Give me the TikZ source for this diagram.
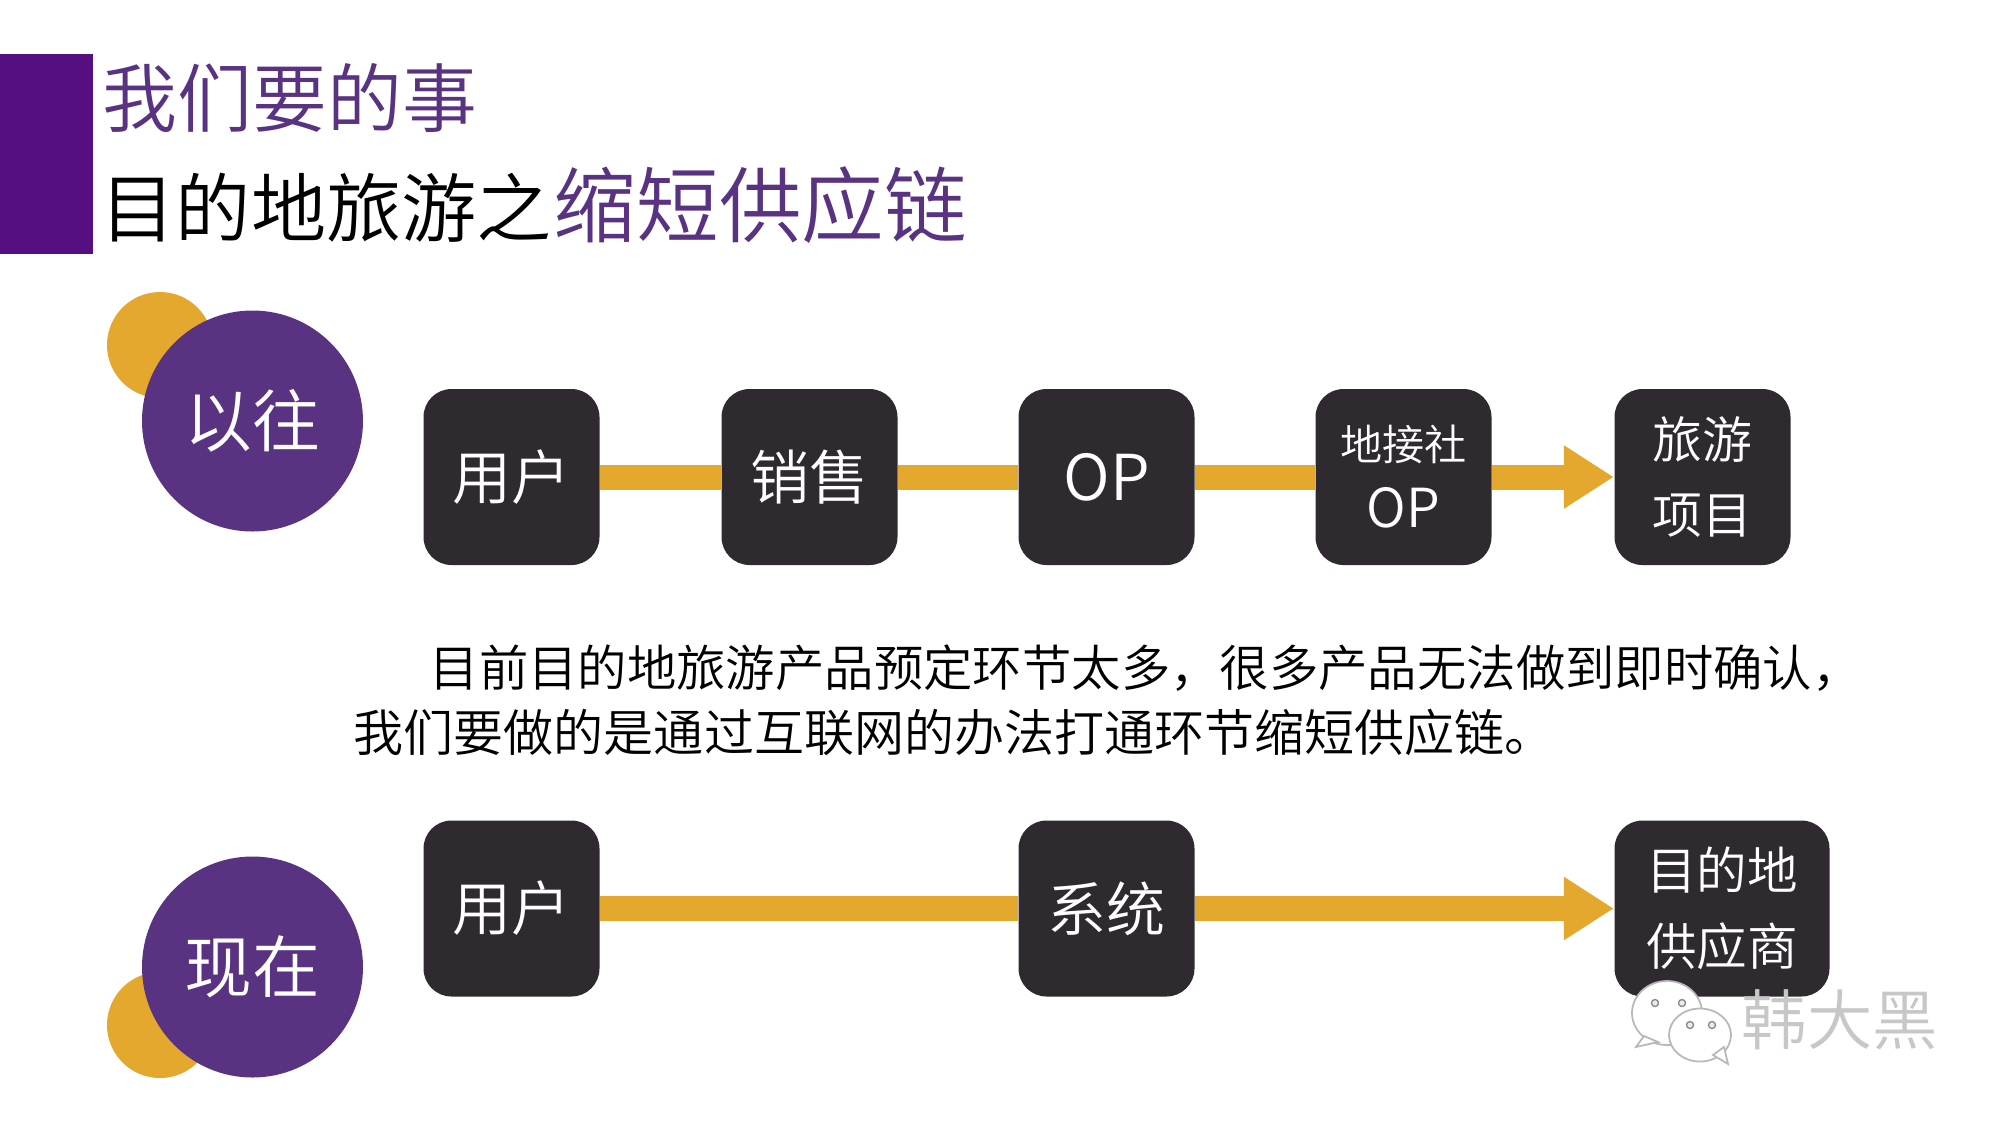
\documentclass[tikz,border=0pt]{standalone}
\usepackage{fontspec}
\setmainfont{Noto Sans CJK SC DemiLight}
\usetikzlibrary{arrows.meta}
\definecolor{barpurple}{HTML}{550F80}
\definecolor{titlepurple}{HTML}{5A3282}
\definecolor{linkorange}{HTML}{E5A82E}
\definecolor{boxdark}{HTML}{2E2A30}
\newcommand{\fs}[1]{\fontsize{#1}{#1}\selectfont}
\tikzset{
  stepbox/.style={fill=boxdark,text=white,rounded corners=0.28cm,inner sep=0pt,minimum width=1.76cm,minimum height=1.76cm,align=center,font=\fs{16.8}},
  spot/.style={circle,fill=linkorange,inner sep=0pt,minimum size=1.06cm},
  era/.style={circle,fill=titlepurple,text=white,inner sep=0pt,minimum size=2.21cm,font=\fs{19.3}},
  link/.style={linkorange,line width=0.25cm},
  linkhead/.style={link,-{Triangle[length=0.5cm,width=0.6cm]}},
  bubble/.style={fill=white,draw=black!28,line width=0.5pt},
  eye/.style={fill=black!8,draw=black!45,line width=0.4pt}
}
\begin{document}
\begin{tikzpicture}[x=1cm,y=1cm,font=\small]
\useasboundingbox (0,0) rectangle (20,-11.25);
\path[fill=barpurple,draw=none] (0,-0.54) rectangle (0.93,-2.54);
\node[anchor=west,inner sep=0pt,text=titlepurple,font=\fs{21.3}] (title-top) at (1.02,-0.98) {我们要的事};
\node[anchor=west,inner sep=0pt,font=\fs{21.4}] (title-main) at (1.0,-2.05) {目的地旅游之\kern0.02cm{\color{titlepurple}\fs{23.5}缩短供应链}};
% before
\node[spot] (spot-old) at (1.6,-3.45) {};
\node[era] (era-old) at (2.525,-4.21) {以往};
\node[stepbox] (old-user) at (5.115,-4.77) {用户};
\node[stepbox] (old-sales) at (8.095,-4.77) {销售};
\node[stepbox,font=\fs{18}] (old-op) at (11.065,-4.77) {OP};
\node[stepbox,font=\fs{12}] (old-local) at (14.035,-4.77) {地接社\\[0.2cm]{\fs{15.3}OP}};
\node[stepbox,font=\fs{14.2}] (old-item) at (17.025,-4.77) {旅游\\[0.25cm]项目};
\draw[link] (old-user) -- (old-sales);
\draw[link] (old-sales) -- (old-op);
\draw[link] (old-op) -- (old-local);
\draw[linkhead] (old-local) -- (old-item);
% text
\node[anchor=west,inner sep=0pt,font=\fs{14.05}] (note-a) at (4.29,-6.68) {目前目的地旅游产品预定环节太多，很多产品无法做到即时确认，};
\node[anchor=west,inner sep=0pt,font=\fs{14.24}] (note-b) at (3.53,-7.32) {我们要做的是通过互联网的办法打通环节缩短供应链。};
% now
\node[spot] (spot-new) at (1.6,-10.25) {};
\node[era] (era-new) at (2.525,-9.67) {现在};
\node[stepbox] (new-user) at (5.115,-9.085) {用户};
\node[stepbox] (new-system) at (11.065,-9.085) {系统};
\node[stepbox,minimum width=2.15cm,font=\fs{14.4}] (new-supplier) at (17.22,-9.085) {目的地\\[0.25cm]供应商};
\draw[link] (new-user) -- (new-system);
\draw[linkhead] (new-system) -- (new-supplier);
% mark
\path[bubble] (16.67,-10.13) ellipse (0.35cm and 0.32cm);
\path[bubble] (16.44,-10.36) -- (16.36,-10.47) -- (16.58,-10.42) -- cycle;
\path[eye] (16.55,-10.03) circle (0.035cm);
\path[eye] (16.82,-10.03) circle (0.035cm);
\path[bubble] (17,-10.35) ellipse (0.31cm and 0.265cm);
\path[bubble] (17.13,-10.55) -- (17.28,-10.64) -- (17.24,-10.47) -- cycle;
\path[eye] (16.9,-10.25) circle (0.035cm);
\path[eye] (17.12,-10.25) circle (0.035cm);
\node[anchor=west,inner sep=0pt,text=black!22,font=\fs{18.6}] (mark-name) at (17.41,-10.2) {韩大黑};
\end{tikzpicture}
\end{document}
